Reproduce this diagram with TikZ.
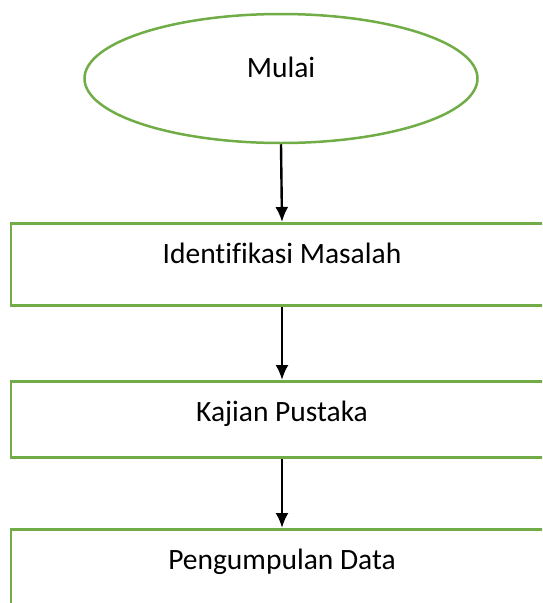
\documentclass[tikz,border=0pt]{standalone}
\usepackage{fontspec}
\setmainfont{Carlito}[Ligatures=NoCommon]
\usetikzlibrary{shapes.geometric,arrows.meta}
\definecolor{boxgreen}{RGB}{112,173,71}
\tikzset{
  startnode/.style={ellipse, draw=boxgreen, line width=2.5pt, fill=white,
    minimum width=393pt, minimum height=129pt, inner sep=0pt,
    font=\fontsize{29.5}{34}\selectfont, text depth=23pt},
  stepbox/.style={rectangle, draw=boxgreen, line width=2.5pt, fill=white,
    minimum width=542pt, inner sep=0pt, anchor=north,
    font=\fontsize{29.5}{34}\selectfont, text height=40.5pt},
  flow/.style={line width=2.4pt, -{Latex[length=15pt,width=13pt]}}
}
\begin{document}
\begin{tikzpicture}[x=1pt,y=-1pt]
\useasboundingbox (0,0) rectangle (542,603);
\clip (0,0) rectangle (542,603);
\node[startnode] (start) at (281,78.5) {Mulai};
\node[stepbox, text depth=41.5pt] (b1) at (282,222) {Identifikasi Masalah};
\node[stepbox, text depth=35.5pt] (b2) at (282,380) {Kajian Pustaka};
\node[stepbox, text depth=80pt] (b3) at (282,528) {Pengumpulan Data};
\draw[flow] (start.south) -- (b1.north);
\draw[flow] (b1.south) -- (b2.north);
\draw[flow] (b2.south) -- (b3.north);
\end{tikzpicture}
\end{document}
